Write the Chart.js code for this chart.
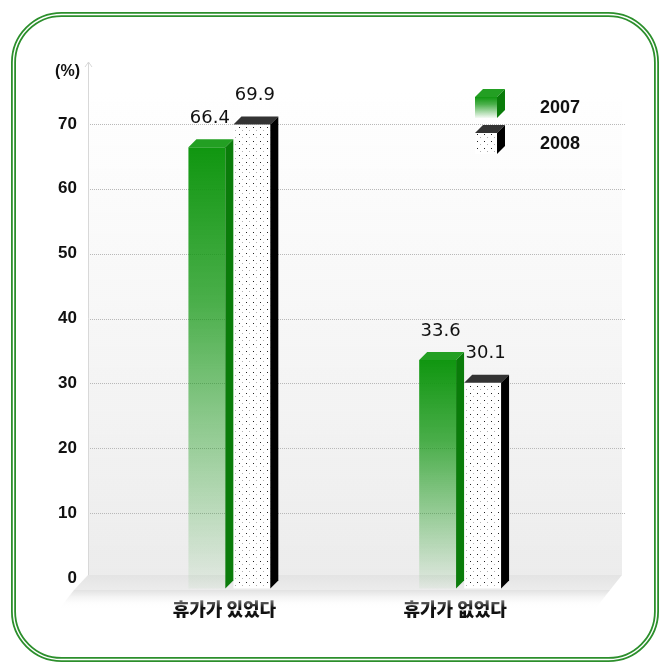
<!DOCTYPE html>
<html>
<head>
<meta charset="utf-8">
<title>휴가 경험</title>
<script src="https://cdn.jsdelivr.net/npm/chart.js@4.4.0/dist/chart.umd.min.js"></script>
<style>
  html, body { margin: 0; padding: 0; background: #fff; }
  #wrap { width: 661px; height: 666px; }
</style>
</head>
<body>
<div id="wrap"><canvas id="myChart"></canvas></div>
<script>
const categories = ['휴가가 있었다', '휴가가 없었다'];
const seriesNames = ['2007', '2008'];
const values2007 = [66.4, 33.6];
const values2008 = [69.9, 30.1];
const unitLabel = '(%)';

const DEPTH = 8;           // 3D offset of bar tops / sides
const GREEN = '16,150,16';

var ctx = document.getElementById('myChart').getContext('2d');

// white with small dots, for the 2008 bars
function dotPattern() {
  var c = document.createElement('canvas');
  c.width = 7; c.height = 7;
  var g = c.getContext('2d');
  g.fillStyle = '#fff'; g.fillRect(0, 0, 7, 7);
  g.fillStyle = '#222'; g.fillRect(1, 1, 1, 1);
  g.fillStyle = '#b0b0b0'; g.fillRect(4, 4, 1, 1);
  return ctx.createPattern(c, 'repeat');
}
var dots = dotPattern();

function greenFade(top, bottom) {
  var gr = ctx.createLinearGradient(0, top, 0, bottom);
  gr.addColorStop(0, 'rgba(' + GREEN + ',1)');
  gr.addColorStop(0.35, 'rgba(' + GREEN + ',0.75)');
  gr.addColorStop(1, 'rgba(' + GREEN + ',0.04)');
  return gr;
}

function box(g, x0, y0, w, h, front, top, side) {
  g.fillStyle = front;
  g.fillRect(x0, y0, w, h);
  g.fillStyle = top;
  g.beginPath();
  g.moveTo(x0, y0); g.lineTo(x0 + DEPTH, y0 - DEPTH);
  g.lineTo(x0 + w + DEPTH, y0 - DEPTH); g.lineTo(x0 + w, y0);
  g.closePath(); g.fill();
  g.fillStyle = side;
  g.beginPath();
  g.moveTo(x0 + w, y0); g.lineTo(x0 + w + DEPTH, y0 - DEPTH);
  g.lineTo(x0 + w + DEPTH, y0 + h - DEPTH); g.lineTo(x0 + w, y0 + h);
  g.closePath(); g.fill();
}

const faces = [
  { top: '#239f23', side: '#0a7c0a' },
  { top: '#333333', side: '#000000' }
];

var decor = {
  id: 'decor',
  beforeDraw: function (chart) {
    var g = chart.ctx, y = chart.scales.y;
    var y0 = y.getPixelForValue(0);
    g.save();
    // rounded double frame
    g.strokeStyle = '#2c8f2c';
    g.lineWidth = 5;
    g.beginPath(); g.roundRect(13.5, 14.5, 643, 645, 48); g.stroke();
    g.strokeStyle = '#fff';
    g.lineWidth = 1.4;
    g.beginPath(); g.roundRect(13.5, 14.5, 643, 645, 48); g.stroke();

    // back wall
    var wall = g.createLinearGradient(0, 90, 0, y0);
    wall.addColorStop(0, 'rgba(238,238,238,0)');
    wall.addColorStop(1, 'rgba(236,236,236,1)');
    g.fillStyle = wall;
    g.fillRect(88, 90, 534, y0 - 93);
    g.restore();
  },
  beforeDatasetsDraw: function (chart) {
    var g = chart.ctx, y = chart.scales.y;
    var y0 = y.getPixelForValue(0);
    g.save();
    // floor slab
    var fl = g.createLinearGradient(0, y0 - 3, 0, y0 + 12);
    fl.addColorStop(0, '#e4e4e4');
    fl.addColorStop(1, '#ececec');
    g.fillStyle = fl;
    g.beginPath();
    g.moveTo(88, y0 - 3); g.lineTo(622, y0 - 3);
    g.lineTo(610, y0 + 12); g.lineTo(74, y0 + 12);
    g.closePath(); g.fill();
    var sh = g.createLinearGradient(0, y0 + 12, 0, y0 + 30);
    sh.addColorStop(0, 'rgba(225,225,225,1)');
    sh.addColorStop(1, 'rgba(255,255,255,0)');
    g.fillStyle = sh;
    g.beginPath();
    g.moveTo(74, y0 + 12); g.lineTo(610, y0 + 12);
    g.lineTo(596, y0 + 30); g.lineTo(60, y0 + 30);
    g.closePath(); g.fill();

    // dotted gridlines
    g.strokeStyle = '#b8b8b8';
    g.lineWidth = 1;
    g.setLineDash([1, 1]);
    y.ticks.forEach(function (t) {
      if (t.value <= 0 || t.value > 70) return;
      var py = Math.round(y.getPixelForValue(t.value)) + 0.5;
      g.beginPath(); g.moveTo(88, py); g.lineTo(625, py); g.stroke();
    });
    g.setLineDash([]);

    // y axis with arrow head
    g.strokeStyle = '#d8d8d8';
    g.beginPath(); g.moveTo(88.5, 62); g.lineTo(88.5, y0 - 3); g.stroke();
    g.beginPath(); g.moveTo(85, 67); g.lineTo(88.5, 62); g.lineTo(92, 67); g.stroke();

    g.fillStyle = '#111';
    g.font = 'bold 16px "Liberation Sans", Arial, sans-serif';
    g.textAlign = 'right'; g.textBaseline = 'middle';
    g.fillText(unitLabel, 80, 72);
    g.restore();
  },
  afterDatasetsDraw: function (chart) {
    var g = chart.ctx;
    g.save();
    chart.data.datasets.forEach(function (ds, i) {
      var meta = chart.getDatasetMeta(i);
      meta.data.forEach(function (el, j) {
        var p = el.getProps(['x', 'y', 'base', 'width'], true);
        var x0 = p.x - p.width / 2, x1 = p.x + p.width / 2;
        g.fillStyle = faces[i].top;
        g.beginPath();
        g.moveTo(x0, p.y); g.lineTo(x0 + DEPTH, p.y - DEPTH);
        g.lineTo(x1 + DEPTH, p.y - DEPTH); g.lineTo(x1, p.y);
        g.closePath(); g.fill();
        g.fillStyle = faces[i].side;
        g.beginPath();
        g.moveTo(x1, p.y); g.lineTo(x1 + DEPTH, p.y - DEPTH);
        g.lineTo(x1 + DEPTH, p.base - DEPTH); g.lineTo(x1, p.base);
        g.closePath(); g.fill();

        // value above the bar
        g.fillStyle = '#111';
        g.font = '18px "DejaVu Sans", sans-serif';
        g.textAlign = 'center'; g.textBaseline = 'middle';
        g.fillText(ds.data[j].toFixed(1), p.x + 3, p.y - 29);
      });
    });

    // legend
    g.font = 'bold 18px "Liberation Sans", Arial, sans-serif';
    g.textAlign = 'left'; g.textBaseline = 'middle';
    chart.data.datasets.forEach(function (ds, i) {
      var top = 97 + i * 36;
      var front = i === 0 ? greenFade(top, top + 21) : dots;
      box(g, 475, top, 22, 21, front, faces[i].top, faces[i].side);
      g.fillStyle = '#111';
      g.fillText(ds.label, 540, top + 11);
    });
    g.restore();
  }
};

function greenBar(c) {
  var chart = c.chart;
  if (!chart.chartArea) return 'rgb(' + GREEN + ')';
  var y = chart.scales.y;
  return greenFade(y.getPixelForValue(c.raw), y.getPixelForValue(-1.6));
}

var myChart = new Chart(ctx, {
  type: 'bar',
  data: {
    labels: categories,
    datasets: [
      { label: seriesNames[0], data: values2007, backgroundColor: greenBar },
      { label: seriesNames[1], data: values2008, backgroundColor: dots }
    ]
  },
  options: {
    responsive: true,
    maintainAspectRatio: false,
    animation: false,
    datasets: {
      bar: { base: -1.6, categoryPercentage: 0.39, barPercentage: 0.82, borderWidth: 0 }
    },
    layout: { padding: { top: 59, right: 85.5, bottom: 0, left: 0 } },
    plugins: { legend: { display: false }, tooltip: { enabled: false } },
    scales: {
      x: {
        grid: { display: false, drawTicks: false },
        border: { display: false },
        afterFit: function (s) { s.height = 68.5; },
        ticks: {
          padding: 1,
          labelOffset: -5,
          color: '#111',
          font: { family: '"Noto Sans CJK KR", sans-serif', size: 18, weight: 900 }
        }
      },
      y: {
        min: -3, max: 80,
        grid: { display: false, drawTicks: false },
        border: { display: false },
        afterFit: function (s) { s.width = 114; },
        afterBuildTicks: function (s) {
          s.ticks = [0, 10, 20, 30, 40, 50, 60, 70].map(function (v) { return { value: v }; });
        },
        ticks: {
          padding: 37,
          color: '#111',
          font: { family: '"Liberation Sans", Arial, sans-serif', size: 17, weight: 'bold' }
        }
      }
    }
  },
  plugins: [decor]
});
</script>
</body>
</html>
